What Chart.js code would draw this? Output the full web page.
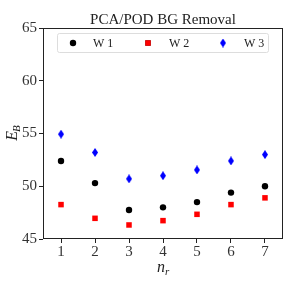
<!DOCTYPE html>
<html>
<head>
<meta charset="utf-8">
<script src="https://cdn.jsdelivr.net/npm/chart.js@4"></script>
<style>
  html, body { margin: 0; padding: 0; background: #fff; }
  #wrap { width: 291px; height: 291px; }
</style>
</head>
<body>
<div id="wrap"><canvas id="bgChart" width="291" height="291"></canvas></div>
<script>
// values
const nr = [1, 2, 3, 4, 5, 6, 7];
const w1 = [52.4, 50.3, 47.75, 48.0, 48.5, 49.4, 50.0];
const w2 = [48.26, 46.96, 46.33, 46.74, 47.34, 48.26, 48.9];
const w3 = [54.94, 53.2, 50.7, 51.0, 51.55, 52.4, 53.0];
const yTicks = [45, 50, 55, 60, 65];
const seriesNames = ['W 1', 'W 2', 'W 3'];

const FONT = "'Liberation Serif', 'DejaVu Serif', serif";

// thin diamond marker like matplotlib's 'd'
function thinDiamond(color) {
    const c = document.createElement('canvas');
    c.width = 6; c.height = 9;
    const g = c.getContext('2d');
    g.fillStyle = color;
    g.beginPath();
    g.moveTo(3, 0); g.lineTo(6, 4.5); g.lineTo(3, 9); g.lineTo(0, 4.5);
    g.closePath();
    g.fill();
    return c;
}

function toPoints(ys) {
    return nr.map((x, i) => ({ x: x, y: ys[i] }));
}

// frame, title, axis titles, legend
const decor = {
    id: 'decor',
    afterDraw(chart) {
        const ctx = chart.ctx;
        const a = chart.chartArea;
        ctx.save();
        ctx.strokeStyle = '#222';
        ctx.lineWidth = 1;
        ctx.strokeRect(a.left + 0.5, a.top + 0.5, a.right - a.left - 1, a.bottom - a.top - 1);

        ctx.fillStyle = '#222';
        ctx.textAlign = 'center';
        ctx.textBaseline = 'alphabetic';
        ctx.font = '15px ' + FONT;
        ctx.fillText('PCA/POD BG Removal', (a.left + a.right) / 2, 24);

        // x title n_r
        const cx = (a.left + a.right) / 2;
        ctx.font = 'italic 16px ' + FONT;
        ctx.textAlign = 'right';
        ctx.fillText('n', cx + 2, 272);
        ctx.font = 'italic 11px ' + FONT;
        ctx.textAlign = 'left';
        ctx.fillText('r', cx + 2, 275);

        // y title E_B
        ctx.translate(17, 133);
        ctx.rotate(-Math.PI / 2);
        ctx.font = 'italic 16px ' + FONT;
        ctx.textAlign = 'right';
        ctx.fillText('E', 2, 0);
        ctx.font = 'italic 11px ' + FONT;
        ctx.textAlign = 'left';
        ctx.fillText('B', 1, 3);
        ctx.restore();

        // legend box
        ctx.save();
        const bx = 57.5, by = 33.5, bw = 211, bh = 19;
        ctx.strokeStyle = '#ddd';
        ctx.fillStyle = 'rgba(255,255,255,0.8)';
        ctx.beginPath();
        ctx.roundRect(bx, by, bw, bh, 2);
        ctx.fill();
        ctx.stroke();
        const markX = [73, 148, 223];
        const textX = [93, 169, 244];
        chart.data.datasets.forEach((ds, i) => {
            const my = by + bh / 2;
            Chart.helpers.drawPoint(ctx, {
                pointStyle: ds.pointStyle,
                radius: ds.pointRadius,
                borderWidth: 0
            }, markX[i], my);
            ctx.fillStyle = ds.backgroundColor;
            if (ds.pointStyle === 'circle' || ds.pointStyle === 'rect') ctx.fill();
            ctx.fillStyle = '#222';
            ctx.font = '12px ' + FONT;
            ctx.textAlign = 'left';
            ctx.textBaseline = 'middle';
            ctx.fillText(ds.label, textX[i], my + 0.5);
        });
        ctx.restore();
    }
};

new Chart(document.getElementById('bgChart'), {
    type: 'scatter',
    data: {
        datasets: [
            { label: seriesNames[0], data: toPoints(w1), pointStyle: 'circle', pointRadius: 3.2,
              backgroundColor: '#000', borderColor: '#000', borderWidth: 0 },
            { label: seriesNames[1], data: toPoints(w2), pointStyle: 'rect', pointRadius: 3.9,
              backgroundColor: '#ff0000', borderColor: '#ff0000', borderWidth: 0 },
            { label: seriesNames[2], data: toPoints(w3), pointStyle: thinDiamond('#0000ff'), pointRadius: 4,
              backgroundColor: '#0000ff', borderColor: '#0000ff', borderWidth: 0 }
        ]
    },
    options: {
        responsive: false,
        animation: false,
        layout: { padding: { left: 0, right: 8, top: 28, bottom: 0 } },
        plugins: { legend: { display: false }, tooltip: { enabled: false } },
        scales: {
            x: {
                type: 'linear',
                min: 0.47, max: 7.53,
                afterBuildTicks: (s) => { s.ticks = nr.map(v => ({ value: v })); },
                afterFit: (s) => { s.height = 52; },
                grid: { display: true, drawOnChartArea: false, drawTicks: true, tickLength: 4, color: '#222' },
                border: { display: false },
                ticks: { color: '#333', padding: 0, font: { family: FONT, size: 15 } }
            },
            y: {
                min: 45, max: 65,
                afterBuildTicks: (s) => { s.ticks = yTicks.map(v => ({ value: v })); },
                afterFit: (s) => { s.width = 43; },
                grid: { display: true, drawOnChartArea: false, drawTicks: true, tickLength: 4, color: '#222' },
                border: { display: false },
                ticks: { color: '#333', padding: 2, font: { family: FONT, size: 15 } }
            }
        }
    },
    plugins: [decor]
});
</script>
</body>
</html>
